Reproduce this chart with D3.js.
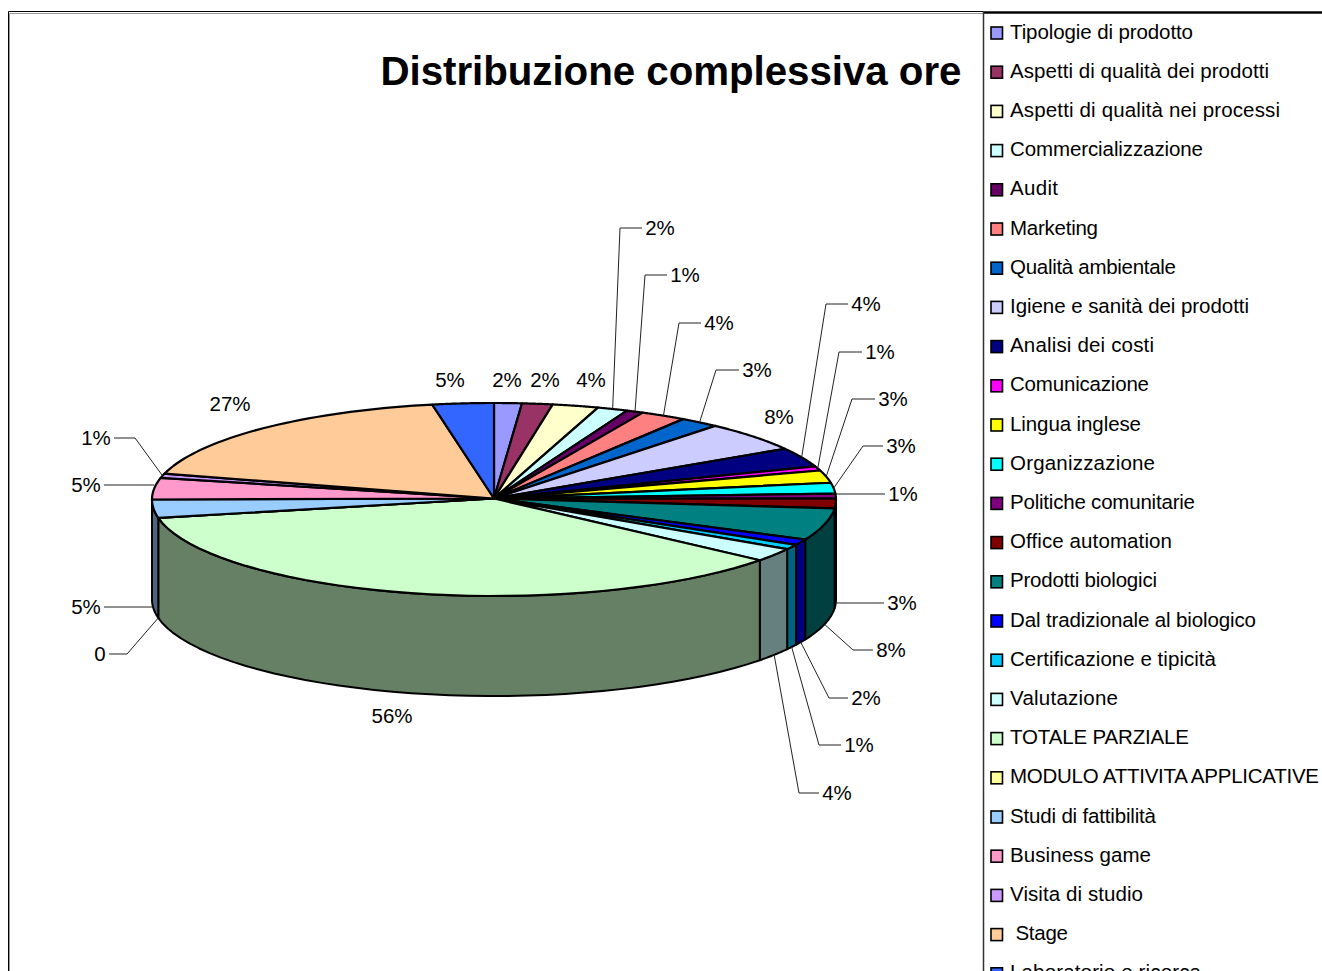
<!DOCTYPE html>
<html>
<head>
<meta charset="utf-8">
<script src="https://cdn.jsdelivr.net/npm/d3@7"></script>
<style>
html, body { margin: 0; padding: 0; background: #fff; overflow: hidden; }
svg { display: block; }
text { font-family: "Liberation Sans", Arial, sans-serif; fill: #000; }
</style>
</head>
<body>
<svg></svg>
<script>
let categories = ["Tipologie di prodotto", "Aspetti di qualità dei prodotti", "Aspetti di qualità nei processi",
    "Commercializzazione", "Audit", "Marketing", "Qualità ambientale", "Igiene e sanità dei prodotti",
    "Analisi dei costi", "Comunicazione", "Lingua inglese", "Organizzazione", "Politiche comunitarie",
    "Office automation", "Prodotti biologici", "Dal tradizionale al biologico", "Certificazione e tipicità",
    "Valutazione", "TOTALE PARZIALE", "MODULO ATTIVITA APPLICATIVE", "Studi di fattibilità",
    "Business game", "Visita di studio", " Stage", "Laboratorio e ricerca"]

// slice sizes (the printed labels do not add up to 100)
let sliceValues = [4.7, 5.2, 7.8, 5.2, 2.9, 7.8, 6.7, 18, 11.6, 2.6, 7.5, 6.5, 3, 5.8, 19.2, 3.5, 3, 8, 130, 0, 11, 13, 2.5, 64.1, 10.4]

let valueLabels = ["2%", "2%", "4%", "2%", "1%", "4%", "3%", "8%", "4%", "1%", "3%", "3%", "1%", "3%", "8%", "2%", "1%", "4%",
    "56%", "0", "5%", "5%", "1%", "27%", "5%"]

let sliceColors = ["#9999FF", "#993366", "#FFFFCC", "#CCFFFF", "#660066", "#FF8080", "#0066CC", "#CCCCFF", "#000080",
    "#FF00FF", "#FFFF00", "#00FFFF", "#800080", "#800000", "#008080", "#0000FF", "#00CCFF", "#CCFFFF", "#CCFFCC",
    "#FFFF99", "#99CCFF", "#FF99CC", "#CC99FF", "#FFCC99", "#3366FF"]

// where each data label sits, x/y of the text centre
let labelPlaces = [[507, 380], [545, 380], [591, 380], [660, 228], [685, 275], [719, 323], [757, 370], [779, 417],
    [866, 304], [880, 352], [893, 399], [901, 446], [903, 494], [902, 603], [891, 650], [866, 698], [859, 745], [837, 793],
    [392, 716], [100, 654], [86, 607], [86, 485], [96, 438], [230, 404], [450, 380]]

// slices whose label has a leader line, and the x of its elbow
let leaderElbows = {3: 620, 4: 645, 5: 679, 6: 716, 8: 826, 9: 839, 10: 852, 11: 863, 12: null, 13: null,
    14: 853, 15: 829, 16: 819, 17: 799, 19: 127, 20: null, 21: null, 22: 135}

// right end of each legend text, the reference spaces its letters unevenly
let legendTextEnds = [1193, 1269, 1280, 1203, 1058, 1098, 1176, 1249, 1154, 1149, 1141, 1155, 1195, 1172, 1157, 1256,
    1216, 1118, 1189, 1319, 1156, 1151, 1143, 1068, 1201]

var width = 1322, height = 971
var cx = 494, cy = 499.5, rx = 342, ry = 96.5, depth = 100

var svg = d3.select("svg")
    .attr("width", width)
    .attr("height", height)

// frame of the chart area, dark line with a grey one next to it
let frame = (d, color, w) => svg.append("path").attr("d", d).attr("fill", "none").attr("stroke", color).attr("stroke-width", w)
frame("M9.5,971V13.5H983", "#999", 1)
frame("M8.5,971V11.5H983", "#000", 1)
frame("M983,12.5H1322", "#000", 2.5)
frame("M983.5,12V971", "#333", 1.5)

svg.append("text")
    .attr("x", 380.5)
    .attr("y", 85)
    .attr("font-size", 40.3)
    .attr("font-weight", "bold")
    .attr("textLength", 581)
    .text("Distribuzione complessiva ore")

let pie = d3.pie().sort(null).value(d => d)
let slices = pie(sliceValues)

// d3.pie angle to a point on the tilted top ellipse
let rim = (a, drop = 0) => [cx + rx * Math.sin(a), cy - ry * Math.cos(a) + drop]
let rimPoints = (a0, a1, drop = 0) => d3.range(0, 41).map(k => rim(a0 + (a1 - a0) * k / 40, drop))
let line = d3.line()

let darker = c => {
    let rgb = d3.rgb(c)
    return d3.rgb(rgb.r * 0.5, rgb.g * 0.5, rgb.b * 0.5).formatHex()
}

let mainCanvas = svg.append("g")

// side walls, only the front half is visible
let front = slices
    .map((d, i) => ({i, a0: Math.max(d.startAngle, Math.PI / 2), a1: Math.min(d.endAngle, Math.PI * 1.5)}))
    .filter(d => d.a1 > d.a0)

mainCanvas.selectAll("path.wall")
    .data(front).enter().append("path")
    .attr("class", "wall")
    .attr("fill", d => darker(sliceColors[d.i]))
    .attr("stroke", "#000")
    .attr("stroke-width", 2)
    .attr("stroke-linejoin", "round")
    .attr("d", d => line(rimPoints(d.a0, d.a1).concat(rimPoints(d.a1, d.a0, depth))) + "Z")

// top face
mainCanvas.selectAll("path.top")
    .data(slices).enter().append("path")
    .attr("class", "top")
    .attr("fill", (d, i) => sliceColors[i])
    .attr("stroke", "#000")
    .attr("stroke-width", 2.2)
    .attr("stroke-linejoin", "round")
    .attr("d", d => line([[cx, cy - 1]].concat(rimPoints(d.startAngle, d.endAngle))) + "Z")

// leader lines start at the middle of the slice, on the bottom rim for the front ones
let anchor = d => {
    let mid = (d.startAngle + d.endAngle) / 2
    let isFront = mid > Math.PI / 2 && mid < Math.PI * 1.5
    return rim(mid, isFront ? depth : 0)
}

let leaders = Object.keys(leaderElbows).map(Number)

mainCanvas.selectAll("path.leader")
    .data(leaders).enter().append("path")
    .attr("class", "leader")
    .attr("fill", "none")
    .attr("stroke", "#222")
    .attr("stroke-width", 1)
    .attr("d", i => {
        let a = anchor(slices[i])
        let [lx, ly] = labelPlaces[i]
        let textEdge = lx + (lx < cx ? 1 : -1) * (valueLabels[i].length > 1 ? 18 : 9)
        let elbow = leaderElbows[i]
        if (elbow === null) return line([[a[0], ly], [textEdge, ly]])
        return line([a, [elbow, ly], [textEdge, ly]])
    })

mainCanvas.selectAll("text.value")
    .data(valueLabels).enter().append("text")
    .attr("class", "value")
    .attr("x", (d, i) => labelPlaces[i][0])
    .attr("y", (d, i) => labelPlaces[i][1] + 6.5)
    .attr("text-anchor", "middle")
    .attr("font-size", 20.5)
    .text(d => d)

// legend
let legendY = d3.scalePoint().domain(d3.range(categories.length)).range([32, 32 + 39.2 * 24])

let legend = svg.selectAll("g.legend")
    .data(categories).enter().append("g")
    .attr("class", "legend")
    .attr("transform", (d, i) => `translate(991, ${legendY(i)})`)

legend.append("rect")
    .attr("y", -5)
    .attr("width", 11.5)
    .attr("height", 12)
    .attr("fill", (d, i) => sliceColors[i])
    .attr("stroke", "#000")
    .attr("stroke-width", 1.6)

legend.append("text")
    .attr("x", 19)
    .attr("y", 6.5)
    .attr("font-size", 20.5)
    .attr("textLength", (d, i) => legendTextEnds[i] - 1010)
    .style("white-space", "pre")
    .text(d => d)
</script>
</body>
</html>
